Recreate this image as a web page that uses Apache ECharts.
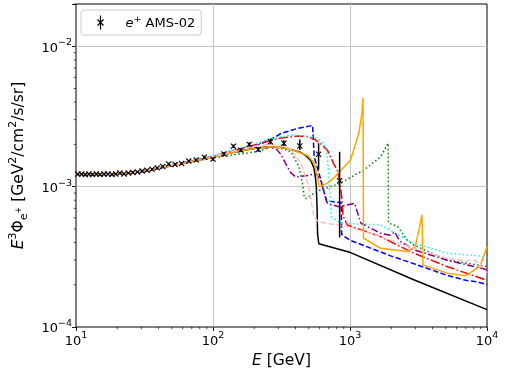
<!DOCTYPE html>
<html><head><meta charset="utf-8">
<script src="https://cdn.jsdelivr.net/npm/echarts@6/dist/echarts.min.js"></script>
<style>html,body{margin:0;padding:0;background:#fff}#c{width:506px;height:379px}</style>
</head><body><div id="c"></div>
<script>
const FONT = 'DejaVu Sans';
const X_MIN = 10, X_MAX = 10000, Y_MIN = 1e-4, Y_MAX = 0.02;
const xMinorTicks = [20,30,40,50,60,70,80,90,200,300,400,500,600,700,800,900,2000,3000,4000,5000,6000,7000,8000,9000];
const yMinorTicks = [2e-4,3e-4,4e-4,5e-4,6e-4,7e-4,8e-4,9e-4,2e-3,3e-3,4e-3,5e-3,6e-3,7e-3,8e-3,9e-3,2e-2];

// AMS-02 positron data: energy, E^3 flux, lower, upper
const amsE  = [10.3,11.0,11.7,12.4,13.2,14.1,15.0,16.0,17.1,18.3,19.5,20.9,22.4,24.1,26.0,28.1,30.4,33.0,35.9,39.2,43.0,47.5,52.8,59.0,66.5,75.5,86.5,100,120,141,160,184,214,262,329,430,590,840];
const amsV  = [1.23e-3,1.23e-3,1.22e-3,1.23e-3,1.22e-3,1.23e-3,1.22e-3,1.23e-3,1.23e-3,1.22e-3,1.23e-3,1.25e-3,1.23e-3,1.25e-3,1.26e-3,1.27e-3,1.29e-3,1.31e-3,1.33e-3,1.36e-3,1.39e-3,1.45e-3,1.44e-3,1.46e-3,1.52e-3,1.55e-3,1.62e-3,1.57e-3,1.71e-3,1.94e-3,1.82e-3,2.00e-3,1.84e-3,2.09e-3,2.04e-3,1.95e-3,1.70e-3,1.10e-3];
const amsLo = [1.21e-3,1.21e-3,1.20e-3,1.21e-3,1.20e-3,1.21e-3,1.20e-3,1.21e-3,1.21e-3,1.20e-3,1.21e-3,1.23e-3,1.21e-3,1.23e-3,1.24e-3,1.25e-3,1.27e-3,1.29e-3,1.31e-3,1.34e-3,1.37e-3,1.42e-3,1.41e-3,1.43e-3,1.49e-3,1.52e-3,1.58e-3,1.53e-3,1.66e-3,1.88e-3,1.76e-3,1.93e-3,1.77e-3,2.00e-3,1.94e-3,1.82e-3,1.33e-3,4.34e-4];
const amsHi = [1.25e-3,1.25e-3,1.24e-3,1.25e-3,1.24e-3,1.25e-3,1.24e-3,1.25e-3,1.25e-3,1.24e-3,1.25e-3,1.27e-3,1.25e-3,1.27e-3,1.28e-3,1.29e-3,1.31e-3,1.33e-3,1.35e-3,1.38e-3,1.41e-3,1.48e-3,1.47e-3,1.49e-3,1.55e-3,1.58e-3,1.66e-3,1.61e-3,1.76e-3,2.00e-3,1.88e-3,2.07e-3,1.91e-3,2.18e-3,2.14e-3,2.17e-3,2.04e-3,1.77e-3];

const blackModel = [[10,1.22e-3],[15,1.22e-3],[20,1.23e-3],[30,1.28e-3],[50,1.42e-3],[70,1.52e-3],[100,1.63e-3],[150,1.78e-3],[200,1.87e-3],[250,1.92e-3],[313,1.90e-3],[370,1.84e-3],[438,1.75e-3],[480,1.65e-3],[520,1.52e-3],[545,1.36e-3],[560,1.15e-3],[568,1.0e-3],[575,7.0e-4],[580,4.6e-4],[592,3.92e-4],[1010,3.39e-4],[2920,2.17e-4],[10000,1.33e-4]];
const blueModel = [[10,1.22e-3],[15,1.22e-3],[20,1.22e-3],[30,1.27e-3],[50,1.41e-3],[70,1.52e-3],[100,1.64e-3],[150,1.82e-3],[212,1.98e-3],[260,2.15e-3],[313,2.39e-3],[415,2.60e-3],[533,2.73e-3],[545,2.70e-3],[548,1.63e-3],[600,1.20e-3],[673,7.9e-4],[760,7.8e-4],[862,7.7e-4],[870,4.55e-4],[1000,4.15e-4],[2000,3.2e-4],[3000,2.8e-4],[5000,2.35e-4],[7000,2.15e-4],[8500,2.1e-4],[10000,2.0e-4]];
const redModel = [[10,1.22e-3],[15,1.22e-3],[20,1.23e-3],[30,1.28e-3],[50,1.41e-3],[70,1.52e-3],[100,1.64e-3],[150,1.84e-3],[200,1.98e-3],[260,2.12e-3],[313,2.22e-3],[415,2.29e-3],[480,2.28e-3],[546,2.19e-3],[610,2.02e-3],[684,1.82e-3],[760,1.45e-3],[805,1.32e-3],[840,1.12e-3],[870,8.5e-4],[890,6.2e-4],[955,5.33e-4],[1670,4.4e-4],[2917,3.36e-4],[5090,2.70e-4],[10000,2.15e-4]];
const cyanModel = [[10,1.22e-3],[15,1.22e-3],[20,1.23e-3],[30,1.28e-3],[50,1.42e-3],[70,1.53e-3],[100,1.66e-3],[150,1.86e-3],[200,2.02e-3],[259,2.19e-3],[371,2.33e-3],[450,2.30e-3],[546,2.25e-3],[600,2.15e-3],[650,2.0e-3],[680,1.7e-3],[700,1.2e-3],[715,8.1e-4],[730,6.1e-4],[855,5.5e-4],[1200,5.4e-4],[1670,5.35e-4],[2100,4.7e-4],[2917,3.95e-4],[5090,3.36e-4],[10000,3.17e-4]];
const greenModel = [[10,1.22e-3],[15,1.22e-3],[20,1.23e-3],[30,1.28e-3],[50,1.41e-3],[70,1.50e-3],[100,1.60e-3],[140,1.68e-3],[175,1.73e-3],[224,1.80e-3],[260,1.92e-3],[313,1.88e-3],[371,1.77e-3],[425,1.38e-3],[450,1.05e-3],[463,8.5e-4],[476,8.2e-4],[578,9.3e-4],[832,1.05e-3],[1260,1.31e-3],[1670,1.63e-3],[1900,2.04e-3],[1910,5.5e-4],[2230,5.2e-4],[2610,4.17e-4],[2917,3.84e-4],[5090,3.0e-4],[10000,2.7e-4]];
const purpleModel = [[10,1.22e-3],[15,1.22e-3],[20,1.23e-3],[30,1.28e-3],[50,1.41e-3],[70,1.51e-3],[100,1.62e-3],[150,1.78e-3],[200,1.88e-3],[260,1.90e-3],[290,1.85e-3],[313,1.70e-3],[340,1.45e-3],[371,1.25e-3],[402,1.17e-3],[493,1.20e-3],[563,1.24e-3],[610,1.11e-3],[684,7.6e-4],[832,7.2e-4],[1080,7.6e-4],[1200,5.5e-4],[1670,4.65e-4],[1950,4.5e-4],[2120,4.75e-4],[2300,4.1e-4],[2917,3.55e-4],[5090,3.0e-4],[10000,2.56e-4]];
const orangeModel = [[10,1.22e-3],[15,1.22e-3],[20,1.23e-3],[30,1.28e-3],[50,1.41e-3],[70,1.51e-3],[100,1.62e-3],[150,1.78e-3],[200,1.87e-3],[260,1.92e-3],[313,1.90e-3],[371,1.84e-3],[493,1.66e-3],[546,1.48e-3],[578,1.18e-3],[596,1.0e-3],[684,1.06e-3],[760,1.15e-3],[1010,1.55e-3],[1160,2.4e-3],[1220,3.3e-3],[1245,4.3e-3],[1255,4.3e-4],[1670,3.64e-4],[2610,3.45e-4],[2990,3.73e-4],[3200,5.0e-4],[3350,6.3e-4],[3410,2.77e-4],[5090,2.42e-4],[6970,2.32e-4],[8890,2.7e-4],[10000,3.73e-4]];
const pinkModel = [[10,1.22e-3],[15,1.22e-3],[20,1.23e-3],[30,1.28e-3],[50,1.42e-3],[70,1.52e-3],[100,1.64e-3],[150,1.82e-3],[200,1.95e-3],[260,2.0e-3],[313,1.98e-3],[371,1.85e-3],[438,1.46e-3],[493,1.05e-3],[518,8.1e-4],[546,6.1e-4],[580,5.7e-4],[650,5.5e-4],[955,5.2e-4],[1670,4.4e-4],[2917,3.64e-4],[5000,3.1e-4],[7000,2.95e-4],[8000,3.0e-4],[8800,2.85e-4],[10000,2.42e-4]];

function tickFmt(v) {
  const l = Math.log10(v), e = Math.round(l);
  if (Math.abs(l - e) > 1e-6) return '';
  return '{b|10}{s|' + (e < 0 ? '\u2212' + (-e) : e) + '}';
}
const tickRich = {
  b: {fontFamily: FONT, fontSize: 13, color: '#000', lineHeight: 17, verticalAlign: 'bottom'},
  s: {fontFamily: FONT, fontSize: 9.5, color: '#000', lineHeight: 17, verticalAlign: 'top'}
};
const lw = 1.5;
function lineSeries(name, data, color, type) {
  return {name, type: 'line', data, showSymbol: false, symbol: 'none', silent: true,
    lineStyle: {color, width: lw, type: type || 'solid', cap: 'butt'}, z: 3};
}
const chart = echarts.init(document.getElementById('c'), null, {renderer: 'canvas'});
chart.setOption({
  animation: false,
  backgroundColor: '#fff',
  grid: {left: 74, top: 4, right: 19, bottom: 52, show: true, borderColor: '#000', borderWidth: 1},
  legend: {
    left: 81, top: 10, orient: 'vertical',
    padding: [3, 6, 3, 5], itemWidth: 32, itemHeight: 14, symbolKeepAspect: false,
    borderColor: '#cccccc', borderWidth: 1, borderRadius: 3, backgroundColor: 'rgba(255,255,255,0.8)',
    data: [{name: 'AMS', icon: 'path://M0,7M32,7M12,0L12,14M9,4L15,10M15,4L9,10', itemStyle: {color: 'none', borderColor: '#000', borderWidth: 1.2}}],
    formatter: () => '{i|e}{s|+}{n| AMS-02}',
    textStyle: {fontFamily: FONT, fontSize: 13, color: '#000', rich: {
      i: {fontFamily: FONT, fontStyle: 'italic', fontSize: 13, color: '#000', lineHeight: 16, verticalAlign: 'bottom'},
      s: {fontFamily: FONT, fontSize: 9.5, color: '#000', lineHeight: 16, verticalAlign: 'top'},
      n: {fontFamily: FONT, fontSize: 13, color: '#000', lineHeight: 16, verticalAlign: 'bottom'}
    }}
  },
  xAxis: {
    type: 'log', logBase: 10, min: X_MIN, max: X_MAX,
    name: '{i|E}{n| [GeV]}', nameLocation: 'middle', nameGap: 22,
    nameTextStyle: {rich: {
      i: {fontFamily: FONT, fontStyle: 'italic', fontSize: 15.5, color: '#000'},
      n: {fontFamily: FONT, fontSize: 15.5, color: '#000'}
    }},
    axisLine: {show: false},
    axisTick: {show: true, length: 4, lineStyle: {color: '#000', width: 0.9}},
    minorTick: {show: false},
    axisLabel: {formatter: tickFmt, rich: tickRich, margin: 4, showMinLabel: true, showMaxLabel: true},
    splitLine: {show: true, showMinLine: false, showMaxLine: false, lineStyle: {color: '#c4c4c4', width: 1}}
  },
  yAxis: {
    type: 'log', logBase: 10, min: Y_MIN, max: Y_MAX,
    name: '{i|E}{p|3}{n|\u03A6}{sb|e}{ss|+}{n| [GeV}{p|2}{n|/cm}{p|2}{n|/s/sr]}',
    nameLocation: 'middle', nameGap: 46, nameRotate: 90,
    nameTextStyle: {rich: {
      i: {fontFamily: FONT, fontStyle: 'italic', fontSize: 15.5, color: '#000', lineHeight: 22, verticalAlign: 'middle'},
      n: {fontFamily: FONT, fontSize: 15.5, color: '#000', lineHeight: 22, verticalAlign: 'middle'},
      p: {fontFamily: FONT, fontSize: 11, color: '#000', lineHeight: 22, verticalAlign: 'top'},
      sb: {fontFamily: FONT, fontSize: 11, color: '#000', lineHeight: 22, verticalAlign: 'bottom'},
      ss: {fontFamily: FONT, fontSize: 8, color: '#000', lineHeight: 22, verticalAlign: 'middle'}
    }},
    axisLine: {show: false},
    axisTick: {show: true, length: 4, lineStyle: {color: '#000', width: 0.9}},
    axisLabel: {formatter: tickFmt, rich: tickRich, margin: 4},
    splitLine: {show: true, showMinLine: false, showMaxLine: false, lineStyle: {color: '#c4c4c4', width: 1}}
  },
  series: [
    lineSeries('m1', blackModel, '#000000'),
    lineSeries('m2', blueModel, '#0000ff', [5.5, 2.4]),
    lineSeries('m3', redModel, '#ff0000', [9.6, 2.4, 1.5, 2.4]),
    lineSeries('m4', cyanModel, '#00ffff', [1.5, 2.5]),
    lineSeries('m5', greenModel, '#008000', [1.5, 2.5]),
    lineSeries('m6', purpleModel, '#800080', [7, 2.5, 1.5, 2.5]),
    lineSeries('m7', orangeModel, '#ffa500'),
    lineSeries('m8', pinkModel, '#ffc0cb', [5.5, 2.4]),
    {
      name: 'AMS', type: 'custom', coordinateSystem: 'cartesian2d', z: 10, silent: true,
      data: amsE.map((e, i) => [e, amsV[i], amsLo[i], amsHi[i]]),
      encode: {x: 0, y: 1},
      itemStyle: {color: '#000'},
      renderItem: (params, api) => {
        const p = api.coord([api.value(0), api.value(1)]);
        const lo = api.coord([api.value(0), api.value(2)]);
        const hi = api.coord([api.value(0), api.value(3)]);
        const s = 2.6;
        return {type: 'group', children: [
          {type: 'line', shape: {x1: p[0], y1: lo[1], x2: p[0], y2: hi[1]}, style: {stroke: '#000', lineWidth: 1.5}},
          {type: 'line', shape: {x1: p[0]-s, y1: p[1]-s, x2: p[0]+s, y2: p[1]+s}, style: {stroke: '#000', lineWidth: 1.1}},
          {type: 'line', shape: {x1: p[0]-s, y1: p[1]+s, x2: p[0]+s, y2: p[1]-s}, style: {stroke: '#000', lineWidth: 1.1}}
        ]};
      }
    },
    {
      name: 'xminor', type: 'custom', coordinateSystem: 'cartesian2d', silent: true, clip: false, z: 12,
      data: xMinorTicks.map(v => [v, Y_MIN]),
      renderItem: (params, api) => {
        const c = api.coord([api.value(0), api.value(1)]);
        return {type: 'line', shape: {x1: c[0], y1: c[1], x2: c[0], y2: c[1] + 2.2}, style: {stroke: '#000', lineWidth: 0.7}};
      }
    },
    {
      name: 'yminor', type: 'custom', coordinateSystem: 'cartesian2d', silent: true, clip: false, z: 12,
      data: yMinorTicks.map(v => [X_MIN, v]),
      renderItem: (params, api) => {
        const c = api.coord([api.value(0), api.value(1)]);
        return {type: 'line', shape: {x1: c[0] - 2.2, y1: c[1], x2: c[0], y2: c[1]}, style: {stroke: '#000', lineWidth: 0.7}};
      }
    }
  ]
});
</script>
</body></html>
